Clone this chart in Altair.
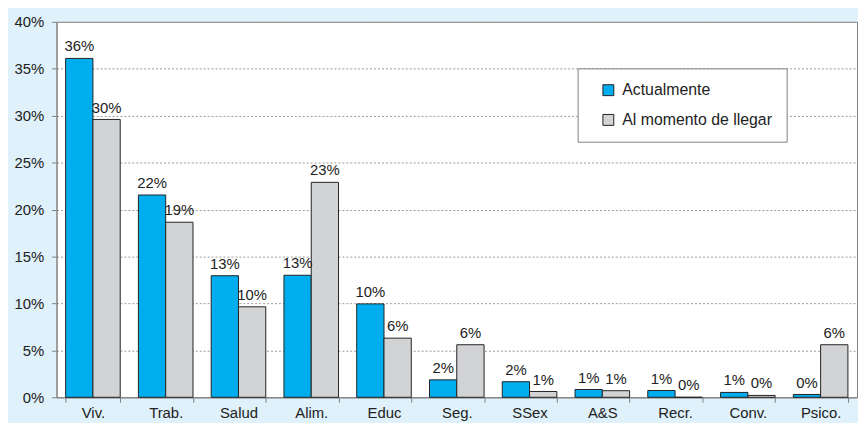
import altair as alt
import pandas as pd

categorias = ["Viv.", "Trab.", "Salud", "Alim.", "Educ", "Seg.", "SSex", "A&S", "Recr.", "Conv.", "Psico."]
actualmente = [0.361, 0.2155, 0.1295, 0.130, 0.0995, 0.0186, 0.0166, 0.0083, 0.0072, 0.0052, 0.003]
al_llegar = [0.296, 0.1865, 0.0964, 0.229, 0.063, 0.056, 0.0062, 0.007, 0.0, 0.002, 0.056]
series = ["Actualmente", "Al momento de llegar"]

rows = []
for c, a, b in zip(categorias, actualmente, al_llegar):
    rows.append({"cat": c, "serie": series[0], "valor": a})
    rows.append({"cat": c, "serie": series[1], "valor": b})
df = pd.DataFrame(rows)

FONT = "Liberation Sans"

x = alt.X("cat:N", sort=categorias, title=None,
          scale=alt.Scale(paddingInner=0.25, paddingOuter=0.125),
          axis=alt.Axis(labelAngle=0, labelFontSize=15, labelColor="#222222", labelFont=FONT,
                        tickBand="extent", tickSize=5, tickColor="#808080",
                        domainColor="#808080", labelPadding=3, grid=False))
xoff = alt.XOffset("serie:N", sort=series, scale=alt.Scale(paddingInner=0, paddingOuter=0))
y = alt.Y("valor:Q", title=None,
          scale=alt.Scale(domain=[0, 0.4], nice=False),
          axis=alt.Axis(values=[0, 0.05, 0.1, 0.15, 0.2, 0.25, 0.3, 0.35, 0.4], format=".0%",
                        labelFontSize=15, labelColor="#222222", labelFont=FONT,
                        tickSize=5, tickColor="#808080", domainColor="#808080",
                        labelPadding=8, grid=True, gridColor="#9a9a9a", gridDash=[2, 2],
                        gridWidth=1))

base = alt.Chart(df)

bars = base.mark_bar(stroke="#222222", strokeWidth=1).encode(
    x=x, xOffset=xoff, y=y,
    color=alt.Color("serie:N", sort=series,
                    scale=alt.Scale(domain=series, range=["#00AEEF", "#D2D3D5"]),
                    legend=alt.Legend(title=None, orient="none", legendX=526, legendY=47,
                                      symbolType="square", symbolSize=121,
                                      symbolStrokeColor="#222222", symbolStrokeWidth=1,
                                      labelFontSize=16, labelFont=FONT, labelColor="#222222",
                                      labelOffset=6, rowPadding=14, padding=14,
                                      symbolOffset=9, fillColor="#ffffff",
                                      strokeColor="#808080")),
)

labels = base.mark_text(baseline="bottom", dy=-4, fontSize=15, font=FONT, color="#222222").encode(
    x=alt.X("cat:N", sort=categorias),
    xOffset=alt.XOffset("serie:N", sort=series),
    y="valor:Q",
    text=alt.Text("valor:Q", format=".0%"),
)

chart = (bars + labels).properties(
    width=808, height=379,
    autosize=alt.AutoSizeParams(type="none"),
    padding={"left": 49, "top": 12, "right": 1, "bottom": 24},
    background="#DFF1FB",
).configure_view(stroke="#808080", strokeWidth=1, fill="#ffffff")

chart.save("out.html", embed_options={"renderer": "svg", "actions": False})
